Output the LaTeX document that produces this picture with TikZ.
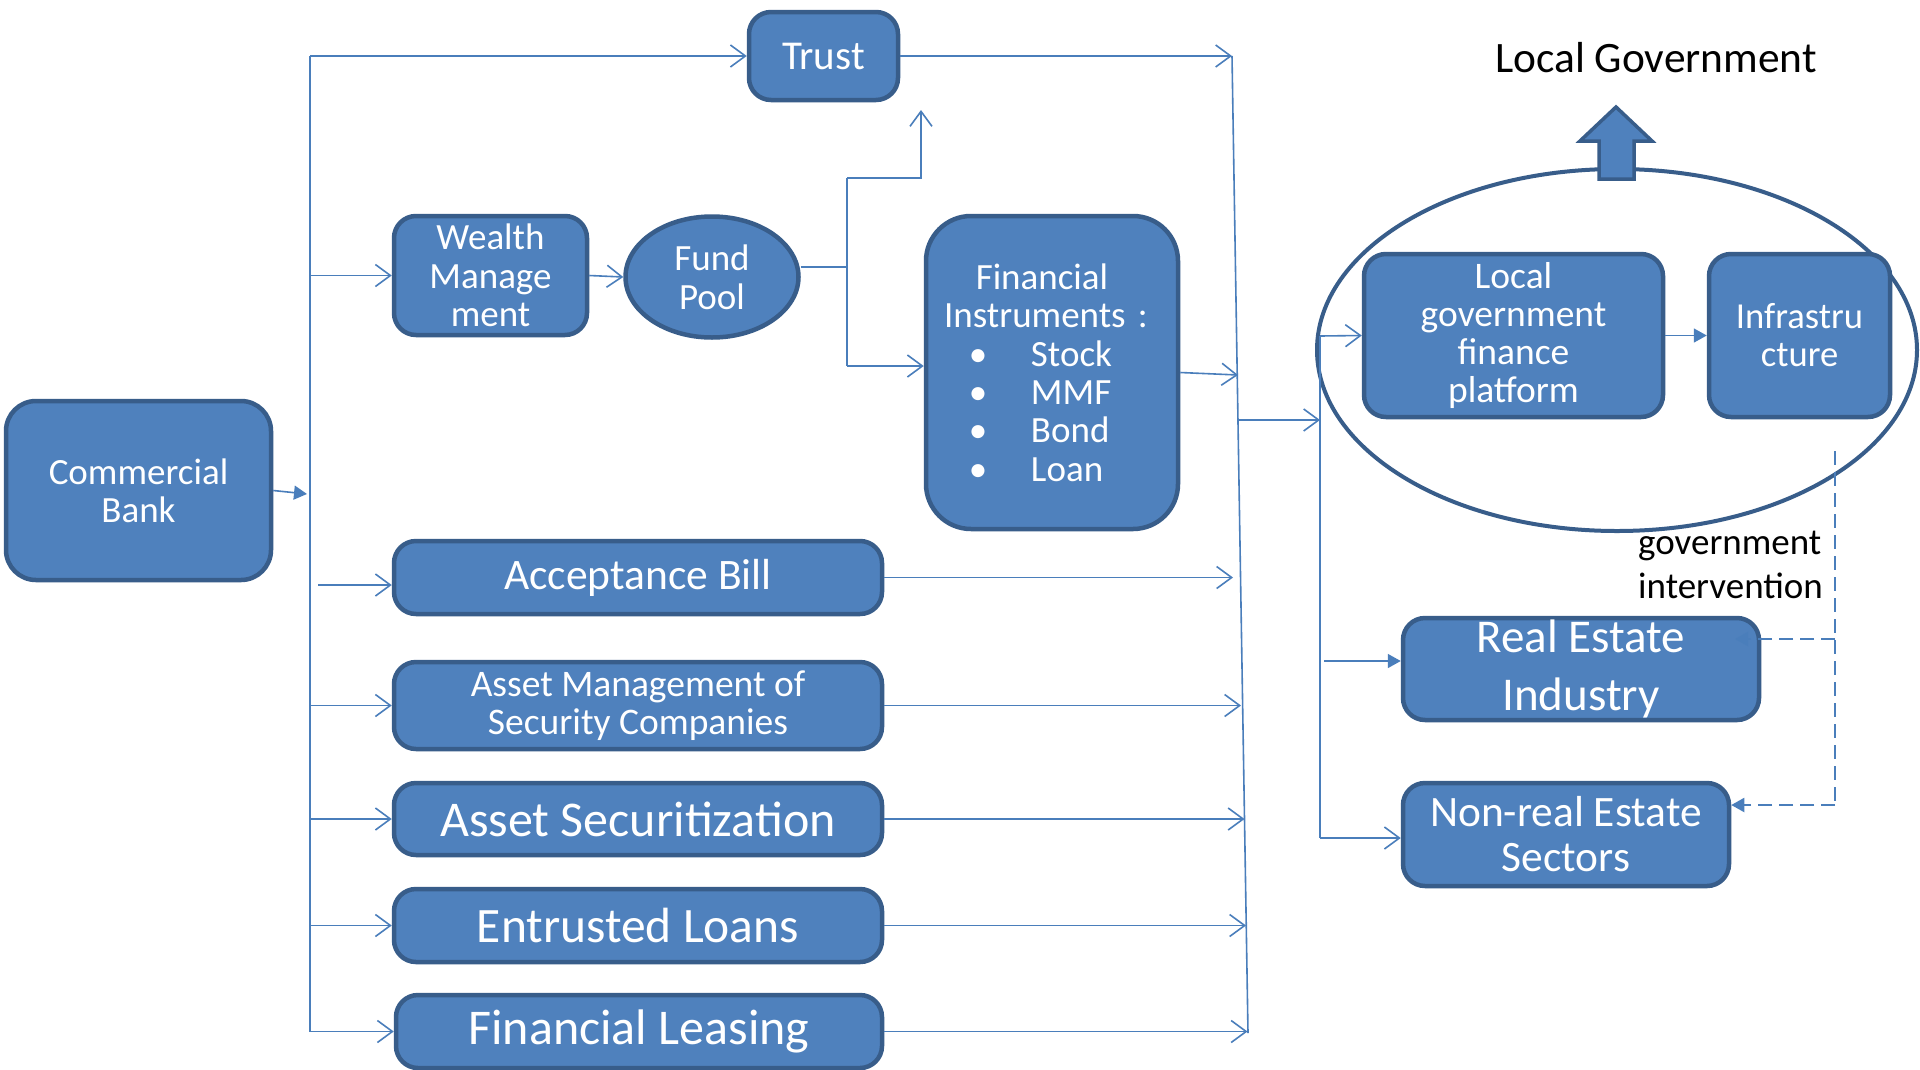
\documentclass[tikz,border=0pt]{standalone}
\usepackage{fontspec}
\setmainfont{Carlito}
\usetikzlibrary{arrows.meta,shapes.geometric}
\definecolor{boxfill}{HTML}{4F81BD}
\definecolor{boxline}{HTML}{385D8A}
\definecolor{connc}{HTML}{4A7EBB}
\newcommand\fsz[2]{\fontsize{#1}{#2}\selectfont}
\begin{document}
\begin{tikzpicture}[x=1pt,y=-1pt,
  box/.style={draw=boxline, fill=boxfill, line width=4.5pt, rounded corners=22pt,
    text=white, align=center, inner sep=0pt},
  conn/.style={draw=connc, line width=1.6pt},
  oarr/.style={-{Straight Barb[length=15pt,width=22pt,line width=1.6pt]}},
  farr/.style={-{Triangle[length=13pt,width=14pt]}},
  dconn/.style={draw=connc, line width=2pt, dash pattern=on 14pt off 7pt},
  lbl/.style={text=black, inner sep=0pt}
]
\useasboundingbox (0,0) rectangle (1920,1069);
\fill[white] (0,0) rectangle (1920,1069);

% big ellipse and block arrow
\node[draw=boxline, line width=4pt, ellipse, minimum width=600pt, minimum height=362pt, inner sep=0pt] (ell) at (1617,350) {};
\draw[fill=boxfill, draw=boxline, line width=3.5pt] (1599,179) -- (1599,141) -- (1580,141) -- (1616,107) -- (1652,141) -- (1634,141) -- (1634,179) -- cycle;

% nodes
\node[box, rounded corners=30pt, minimum width=265pt, minimum height=179pt, font=\fsz{37}{38}] (cb) at (138.5,490.5) {Commercial\\Bank};
\node[box, minimum width=149pt, minimum height=88pt, font=\fsz{41}{44}] (trust) at (823.5,56) {Trust};
\node[box, minimum width=193pt, minimum height=119pt, font=\fsz{37}{38.5}] (wm) at (490.5,275.5) {Wealth\\Manage\\ment};
\node[box, ellipse, minimum width=173pt, minimum height=121pt, font=\fsz{37}{39}] (fp) at (712,277) {Fund\\Pool};
\node[box, rounded corners=45pt, minimum width=252pt, minimum height=313pt, text width=220pt, align=left, font=\fsz{37}{38.4}] (fi) at (1052,372.5)
  {\makebox[200pt][c]{Financial}\\
   \makebox[208pt][c]{Instruments :}\\
   \hspace*{36pt}\makebox[0pt]{\textbullet}\hspace*{53pt}Stock\\
   \hspace*{36pt}\makebox[0pt]{\textbullet}\hspace*{53pt}MMF\\
   \hspace*{36pt}\makebox[0pt]{\textbullet}\hspace*{53pt}Bond\\
   \hspace*{36pt}\makebox[0pt]{\textbullet}\hspace*{53pt}Loan};
\node[box, minimum width=488pt, minimum height=73pt, font=\fsz{43.5}{46}] (acc) at (638,577.5) {Acceptance Bill};
\node[box, minimum width=488pt, minimum height=87pt, font=\fsz{37.5}{38}] (am) at (638,705.5) {Asset Management of\\Security Companies};
\node[box, minimum width=488pt, minimum height=72pt, font=\fsz{50}{52}] (as) at (638,819) {Asset Securitization};
\node[box, minimum width=488pt, minimum height=73pt, font=\fsz{49.5}{52}] (el) at (638,925.5) {Entrusted Loans};
\node[box, minimum width=486pt, minimum height=73pt, font=\fsz{50}{52}] (fl) at (639,1031.5) {Financial Leasing};
\node[box, minimum width=299pt, minimum height=163pt, font=\fsz{37.5}{38.3}] (lgfp) at (1513.5,335.5) {Local\\government\\finance\\platform};
\node[box, minimum width=181pt, minimum height=163pt, font=\fsz{36.6}{38}] (inf) at (1799.5,335.5) {Infrastru\\cture};
\node[box, minimum width=356pt, minimum height=102pt, font=\fsz{47}{57.5}] (re) at (1581,669) {Real Estate\\Industry};
\node[box, minimum width=326pt, minimum height=103pt, font=\fsz{43.4}{45}] (nr) at (1566,834.5) {Non-real Estate\\Sectors};

\node[lbl, font=\fsz{43.4}{46}] (lgt) at (1656,58) {Local Government};
\node[lbl, align=left, anchor=west, font=\fsz{37}{44}] (gi) at (1638,565) {government\\intervention};

% coordinates
\coordinate (tTop) at (310,56);
\coordinate (tBot) at (310,1031.5);
\coordinate (tArr) at (307,494);
\coordinate (accS) at (318,585);
\coordinate (jTop) at (847,178);
\coordinate (jBot) at (847,366);
\coordinate (upEnd) at (921,110);
\coordinate (cTop) at (1232,56);
\coordinate (cBot) at (1248,1033);
\coordinate (cFi) at (1238,375);
\coordinate (cAcc) at (1233,577.5);
\coordinate (cAm) at (1241,705.5);
\coordinate (cAs) at (1244.5,819);
\coordinate (cEl) at (1246,925.5);
\coordinate (cFl) at (1247.5,1031.5);
\coordinate (cMid) at (1238,420);
\coordinate (vTop) at (1320,336);
\coordinate (vBot) at (1320,838);
\coordinate (reS) at (1324,661);
\coordinate (dTop) at (1835,451);
\coordinate (dBot) at (1835,805);
\coordinate (reD) at (1735,639);

% left trunk
\draw[conn] (tTop) -- (tBot);
\draw[conn, farr] (cb.east) -- (tArr);
\draw[conn, oarr] (tTop) -- (trust.west);
\draw[conn, oarr] (tTop |- wm.west) -- (wm.west);
\draw[conn, oarr] (accS) -- (acc.west |- accS);
\draw[conn, oarr] (tTop |- am.west) -- (am.west);
\draw[conn, oarr] (tTop |- as.west) -- (as.west);
\draw[conn, oarr] (tTop |- el.west) -- (el.west);
\draw[conn, oarr] (tBot) -- (fl.west);

% wealth / fund pool
\draw[conn, oarr] (wm.east) -- (fp.west);
\draw[conn] ([yshift=10pt]fp.east) -| (jTop);
\draw[conn] ([yshift=10pt]fp.east) -| (jBot);
\draw[conn, oarr] (jTop) -| (upEnd);
\draw[conn, oarr] (jBot) -- (fi.west |- jBot);

% collector
\draw[conn] (cTop) -- (cBot);
\draw[conn, oarr] (trust.east) -- (cTop);
\draw[conn, oarr] (fi.east) -- (cFi);
\draw[conn, oarr] (acc.east) -- (cAcc);
\draw[conn, oarr] (am.east) -- (cAm);
\draw[conn, oarr] (as.east) -- (cAs);
\draw[conn, oarr] (el.east) -- (cEl);
\draw[conn, oarr] (fl.east) -- (cFl);
\draw[conn, oarr] (cMid) -- (vTop |- cMid);

% right side
\draw[conn] (vTop) -- (vBot);
\draw[conn, oarr] (vTop) -- (lgfp.west);
\draw[conn, farr] (reS) -- (re.west |- reS);
\draw[conn, oarr] (vBot) -- (nr.west |- vBot);
\draw[conn, farr] (lgfp.east) -- (inf.west);

% government intervention
\draw[dconn] (dTop) -- (dBot);
\draw[dconn, farr] (dTop |- reD) -- (reD);
\draw[dconn, farr] (dBot) -- (nr.east |- dBot);
\end{tikzpicture}
\end{document}
